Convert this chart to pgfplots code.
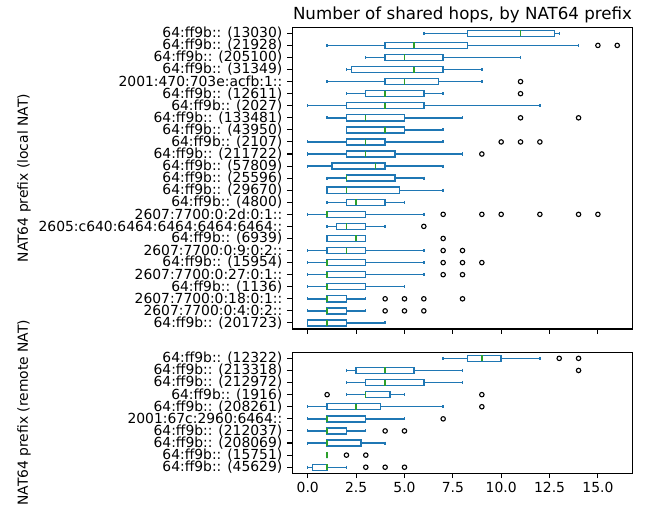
\documentclass[border=0pt]{standalone}
\usepackage{fontspec}
\setmainfont{DejaVu Sans}
\usepackage{pgfplots}
\pgfplotsset{compat=1.18}
\usepgfplotslibrary{statistics}
\definecolor{mplblue}{RGB}{31,119,180}
\definecolor{mplgreen}{RGB}{44,160,44}

\pgfplotsset{
  hopaxis/.style={
    scale only axis,
    width=245.1pt,
    xmin=-0.8, xmax=16.8,
    xtick={0,2.5,5,7.5,10,12.5,15},
    xtick pos=bottom, ytick pos=left,
    tick align=outside,
    major tick length=3.5pt,
    tick style={line width=0.8pt, black},
    axis line style={line width=0.8pt},
    y dir=reverse,
    ymin=0.5,
    /pgf/number format/assume math mode=true,
    tick label style={font=\fontsize{10}{12}\selectfont},
    yticklabel style={anchor=east, inner sep=0pt, xshift=-3.5pt},
    xticklabel style={anchor=base, inner sep=0pt, yshift=-10.5pt,
      /pgf/number format/.cd, fixed, fixed zerofill, precision=1},
    ylabel style={at={(axis description cs:-0.788,0.5)}, anchor=center,
      font=\fontsize{10}{12}\selectfont},
    boxplot/box extend=0.5,
    boxplot/whisker extend=0.25,
    boxplot/every median/.style={draw=mplgreen, line width=1pt},
  },
  bp/.style={draw=mplblue, line width=1pt, mark=o, mark size=1.6pt,
    mark options={draw=black, line width=0.8pt, fill=none}},
}

\begin{document}
\begin{tikzpicture}
\useasboundingbox (-210.46pt,19.66pt) rectangle (258.98pt,-346.82pt);

% local NAT
\begin{axis}[hopaxis,
  at={(0,0)}, anchor=north west,
  height=217.2pt,
  ymax=25.5,
  xticklabels={},
  ytick={1,...,25},
  yticklabels={64:ff9b:: (13030), 64:ff9b:: (21928), 64:ff9b:: (205100), 64:ff9b:: (31349),
    2001:470:703e:acfb:1::, 64:ff9b:: (12611), 64:ff9b:: (2027), 64:ff9b:: (133481),
    64:ff9b:: (43950), 64:ff9b:: (2107), 64:ff9b:: (211722), 64:ff9b:: (57809),
    64:ff9b:: (25596), 64:ff9b:: (29670), 64:ff9b:: (4800), 2607:7700:0:2d:0:1::,
    2605:c640:6464:6464:6464:6464::, 64:ff9b:: (6939), 2607:7700:0:9:0:2::,
    64:ff9b:: (15954), 2607:7700:0:27:0:1::, 64:ff9b:: (1136), 2607:7700:0:18:0:1::,
    2607:7700:0:4:0:2::, 64:ff9b:: (201723)},
  ylabel={NAT64 prefix (local NAT)},
  title={Number of shared hops, by NAT64 prefix},
  every axis title/.style={at={(axis description cs:0.5,1)}, anchor=base, yshift=5.3pt,
    font=\fontsize{12}{14}\selectfont},
]
\addplot[bp, boxplot prepared={draw position=1, lower whisker=6, lower quartile=8.25, median=11, upper quartile=12.75, upper whisker=13}] coordinates {};
\addplot[bp, boxplot prepared={draw position=2, lower whisker=1, lower quartile=4, median=5.5, upper quartile=8.25, upper whisker=14}] coordinates {(0,15) (0,16)};
\addplot[bp, boxplot prepared={draw position=3, lower whisker=3, lower quartile=4, median=5, upper quartile=7, upper whisker=11}] coordinates {};
\addplot[bp, boxplot prepared={draw position=4, lower whisker=2, lower quartile=2.25, median=5.5, upper quartile=7, upper whisker=9}] coordinates {};
\addplot[bp, boxplot prepared={draw position=5, lower whisker=1, lower quartile=4, median=5, upper quartile=6.75, upper whisker=9}] coordinates {(0,11)};
\addplot[bp, boxplot prepared={draw position=6, lower whisker=2, lower quartile=3, median=4, upper quartile=6, upper whisker=7}] coordinates {(0,11)};
\addplot[bp, boxplot prepared={draw position=7, lower whisker=0, lower quartile=2, median=4, upper quartile=6, upper whisker=12}] coordinates {};
\addplot[bp, boxplot prepared={draw position=8, lower whisker=1, lower quartile=2, median=3, upper quartile=5, upper whisker=8}] coordinates {(0,11) (0,14)};
\addplot[bp, boxplot prepared={draw position=9, lower whisker=2, lower quartile=2, median=4, upper quartile=5, upper whisker=7}] coordinates {};
\addplot[bp, boxplot prepared={draw position=10, lower whisker=0, lower quartile=2, median=3, upper quartile=4, upper whisker=7}] coordinates {(0,10) (0,11) (0,12)};
\addplot[bp, boxplot prepared={draw position=11, lower whisker=0, lower quartile=2, median=3, upper quartile=4.5, upper whisker=8}] coordinates {(0,9)};
\addplot[bp, boxplot prepared={draw position=12, lower whisker=0, lower quartile=1.25, median=3.5, upper quartile=4, upper whisker=7}] coordinates {};
\addplot[bp, boxplot prepared={draw position=13, lower whisker=1, lower quartile=2, median=2, upper quartile=4.5, upper whisker=6}] coordinates {};
\addplot[bp, boxplot prepared={draw position=14, lower whisker=1, lower quartile=1, median=2, upper quartile=4.75, upper whisker=7}] coordinates {};
\addplot[bp, boxplot prepared={draw position=15, lower whisker=1, lower quartile=2, median=2.5, upper quartile=4, upper whisker=5}] coordinates {};
\addplot[bp, boxplot prepared={draw position=16, lower whisker=0, lower quartile=1, median=1, upper quartile=3, upper whisker=6}] coordinates {(0,7) (0,9) (0,10) (0,12) (0,14) (0,15)};
\addplot[bp, boxplot prepared={draw position=17, lower whisker=1, lower quartile=1.5, median=2, upper quartile=3, upper whisker=4}] coordinates {(0,6)};
\addplot[bp, boxplot prepared={draw position=18, lower whisker=1, lower quartile=1, median=2.5, upper quartile=3, upper whisker=3}] coordinates {(0,7)};
\addplot[bp, boxplot prepared={draw position=19, lower whisker=0, lower quartile=1, median=2, upper quartile=3, upper whisker=6}] coordinates {(0,7) (0,8)};
\addplot[bp, boxplot prepared={draw position=20, lower whisker=0, lower quartile=1, median=1, upper quartile=3, upper whisker=6}] coordinates {(0,7) (0,8) (0,9)};
\addplot[bp, boxplot prepared={draw position=21, lower whisker=0, lower quartile=1, median=1, upper quartile=3, upper whisker=6}] coordinates {(0,7) (0,8)};
\addplot[bp, boxplot prepared={draw position=22, lower whisker=0, lower quartile=1, median=1, upper quartile=3, upper whisker=5}] coordinates {};
\addplot[bp, boxplot prepared={draw position=23, lower whisker=0, lower quartile=1, median=1, upper quartile=2, upper whisker=3}] coordinates {(0,4) (0,5) (0,6) (0,8)};
\addplot[bp, boxplot prepared={draw position=24, lower whisker=0, lower quartile=1, median=1, upper quartile=2, upper whisker=3}] coordinates {(0,4) (0,5) (0,6)};
\addplot[bp, boxplot prepared={draw position=25, lower whisker=0, lower quartile=0, median=1, upper quartile=2, upper whisker=4}] coordinates {};
\end{axis}

% remote NAT
\begin{axis}[hopaxis,
  at={(0,-234.0pt)}, anchor=north west,
  height=87.1pt,
  ymax=10.5,
  ytick={1,...,10},
  yticklabels={64:ff9b:: (12322), 64:ff9b:: (213318), 64:ff9b:: (212972), 64:ff9b:: (1916),
    64:ff9b:: (208261), 2001:67c:2960:6464::, 64:ff9b:: (212037), 64:ff9b:: (208069),
    64:ff9b:: (15751), 64:ff9b:: (45629)},
  ylabel={NAT64 prefix (remote NAT)},
]
\addplot[bp, boxplot prepared={draw position=1, lower whisker=7, lower quartile=8.25, median=9, upper quartile=10, upper whisker=12}] coordinates {(0,13) (0,14)};
\addplot[bp, boxplot prepared={draw position=2, lower whisker=2, lower quartile=2.5, median=4, upper quartile=5.5, upper whisker=8}] coordinates {(0,14)};
\addplot[bp, boxplot prepared={draw position=3, lower whisker=2, lower quartile=3, median=4, upper quartile=6, upper whisker=8}] coordinates {};
\addplot[bp, boxplot prepared={draw position=4, lower whisker=2, lower quartile=3, median=3, upper quartile=4.25, upper whisker=5}] coordinates {(0,1) (0,9)};
\addplot[bp, boxplot prepared={draw position=5, lower whisker=0, lower quartile=1, median=2.5, upper quartile=3.75, upper whisker=7}] coordinates {(0,9)};
\addplot[bp, boxplot prepared={draw position=6, lower whisker=0, lower quartile=1, median=1, upper quartile=3, upper whisker=5}] coordinates {(0,7)};
\addplot[bp, boxplot prepared={draw position=7, lower whisker=0, lower quartile=1, median=1, upper quartile=2, upper whisker=3}] coordinates {(0,4) (0,5)};
\addplot[bp, boxplot prepared={draw position=8, lower whisker=0, lower quartile=1, median=1, upper quartile=2.75, upper whisker=4}] coordinates {};
\addplot[bp, boxplot prepared={draw position=9, lower whisker=1, lower quartile=1, median=1, upper quartile=1, upper whisker=1}] coordinates {(0,2) (0,3)};
\addplot[bp, boxplot prepared={draw position=10, lower whisker=0, lower quartile=0.25, median=1, upper quartile=1, upper whisker=2}] coordinates {(0,3) (0,4) (0,5)};
\end{axis}
\end{tikzpicture}
\end{document}
